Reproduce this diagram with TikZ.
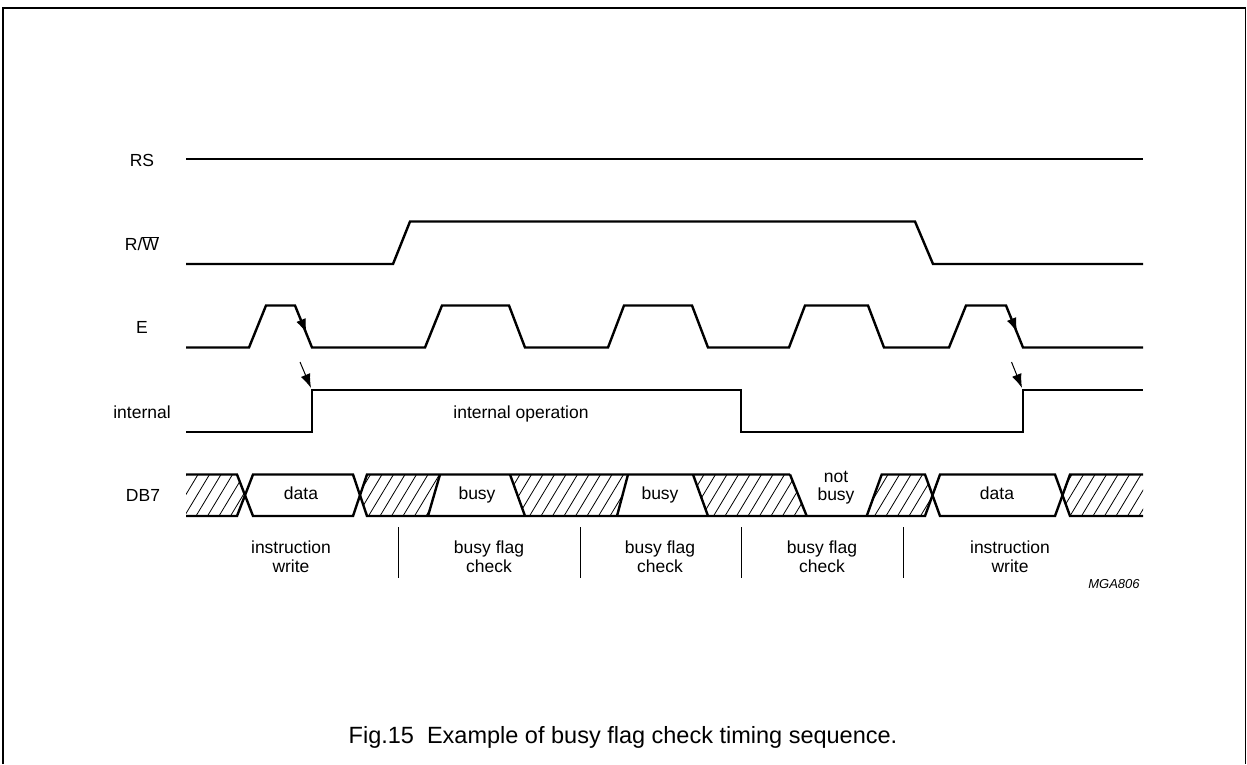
\documentclass[tikz,border=0pt]{standalone}
\usepackage{fontspec}
\setmainfont{Liberation Sans}
\usetikzlibrary{arrows.meta}
\begin{document}
\begin{tikzpicture}[x=1pt,y=-1pt,
  sig/.style={line width=2.4pt},
  frameline/.style={line width=1.4pt},
  hatchline/.style={line width=0.8pt},
  sepline/.style={line width=0.9pt},
  lbl/.style={font=\fontsize{17.5}{21}\selectfont, anchor=base, inner sep=0pt},
  smalllbl/.style={font=\fontsize{13}{15}\selectfont\itshape, anchor=base, inner sep=0pt},
  captionlbl/.style={font=\fontsize{23.5}{27}\selectfont, anchor=base, inner sep=0pt},
  arr/.style={line width=1pt, -{Latex[length=14pt,width=10pt]}}]
\useasboundingbox (0,0) rectangle (1247,764);
% frame
\draw[frameline] (3,764) -- (3,8) -- (1245.5,8) -- (1245.5,764);

% signal labels
\node[lbl] (lRS) at (142,166) {RS};
\node[lbl] (lRW) at (142,250.5) {R/$\overline{\mbox{W}}$};
\node[lbl] (lE) at (142,333) {E};
\node[lbl] (lint) at (142,418) {internal};
\node[lbl] (lDB) at (143,501.5) {DB7};

% RS
\draw[sig] (186,159) -- (1143,159);
% R/W
\draw[sig] (186,264) -- (393,264) -- (410,221.5) -- (915,221.5) -- (933,264) -- (1143,264);
% E
\draw[sig] (186,347.5) -- (249,347.5) -- (266,305.5) -- (295,305.5) -- (312,347.5)
  -- (425,347.5) -- (442,305.5) -- (509,305.5) -- (525,347.5)
  -- (608,347.5) -- (624,305.5) -- (692,305.5) -- (708,347.5)
  -- (789,347.5) -- (805,305.5) -- (868,305.5) -- (884,347.5)
  -- (949,347.5) -- (966,305.5) -- (1006,305.5) -- (1023,347.5) -- (1143,347.5);
% internal
\draw[sig] (186,432) -- (312,432) -- (312,390) -- (741,390) -- (741,432) -- (1023,432) -- (1023,390) -- (1143,390);
\node[lbl] (iop) at (521,418) {internal operation};

% arrows
\coordinate (ea1s) at (296.5,309);
\coordinate (ea1e) at (306.5,333);
\coordinate (ia1s) at (300,362);
\coordinate (ia1e) at (311,388);
\coordinate (ea2s) at (1007.5,309);
\coordinate (ea2e) at (1017,332);
\coordinate (ia2s) at (1011.5,362);
\coordinate (ia2e) at (1022,388);
\draw[arr] (ea1s) -- (ea1e);
\draw[arr] (ia1s) -- (ia1e);
\draw[arr] (ea2s) -- (ea2e);
\draw[arr] (ia2s) -- (ia2e);

% DB7 hatching
\begin{scope}
\clip (186,474.5) -- (237,474.5) -- (245,495.25) -- (237,516) -- (186,516) -- cycle
      (360,495.25) -- (367,474.5) -- (440,474.5) -- (428,516) -- (367,516) -- cycle
      (510,474.5) -- (628,474.5) -- (617,516) -- (525,516) -- cycle
      (693,474.5) -- (790,474.5) -- (806.7,516) -- (708,516) -- cycle
      (866.7,516) -- (881.7,474.5) -- (925,474.5) -- (932.5,495.25) -- (925,516) -- cycle
      (1062.5,495.25) -- (1070,474.5) -- (1143,474.5) -- (1143,516) -- (1070,516) -- cycle;
\foreach \x in {150,161.5,...,1150}
  \draw[hatchline] (\x,516) -- ({\x+25},474.5);
\end{scope}

% DB7 outlines
\draw[sig] (186,474.5) -- (237,474.5) -- (253,516) -- (353,516) -- (367,474.5) -- (790,474.5);
\draw[sig] (186,516) -- (237,516) -- (253,474.5) -- (353,474.5) -- (367,516) -- (925,516) -- (940,474.5) -- (1055,474.5) -- (1070,516) -- (1143,516);
\draw[sig] (866.7,516) -- (881.7,474.5) -- (925,474.5) -- (940,516) -- (1055,516) -- (1070,474.5) -- (1143,474.5);
\draw[sig] (428,516) -- (440,474.5);
\draw[sig] (510,474.5) -- (525,516);
\draw[sig] (617,516) -- (628,474.5);
\draw[sig] (693,474.5) -- (708,516);
\draw[sig] (790,474.5) -- (806.7,516);

% DB7 texts
\node[lbl] (d1) at (301,499) {data};
\node[lbl] (b1) at (477,499) {busy};
\node[lbl] (b2) at (660,499) {busy};
\node[lbl] (nb1) at (836,482) {not};
\node[lbl] (nb2) at (836,500) {busy};
\node[lbl] (d2) at (997,499) {data};

% separators
\draw[sepline] (398.5,527) -- (398.5,578);
\draw[sepline] (580,527) -- (580,578);
\draw[sepline] (741.5,527) -- (741.5,578);
\draw[sepline] (903,527) -- (903,578);

% section labels
\node[lbl] (s1a) at (291,553.5) {instruction};
\node[lbl] (s1b) at (291,572) {write};
\node[lbl] (s2a) at (489,553.5) {busy flag};
\node[lbl] (s2b) at (489,572) {check};
\node[lbl] (s3a) at (660,553.5) {busy flag};
\node[lbl] (s3b) at (660,572) {check};
\node[lbl] (s4a) at (822,553.5) {busy flag};
\node[lbl] (s4b) at (822,572) {check};
\node[lbl] (s5a) at (1010,553.5) {instruction};
\node[lbl] (s5b) at (1010,572) {write};
\node[smalllbl] (mga) at (1114,588) {MGA806};

% caption
\node[captionlbl] (caption) at (623,743) {Fig.15\ \ Example of busy flag check timing sequence.};
\end{tikzpicture}
\end{document}
